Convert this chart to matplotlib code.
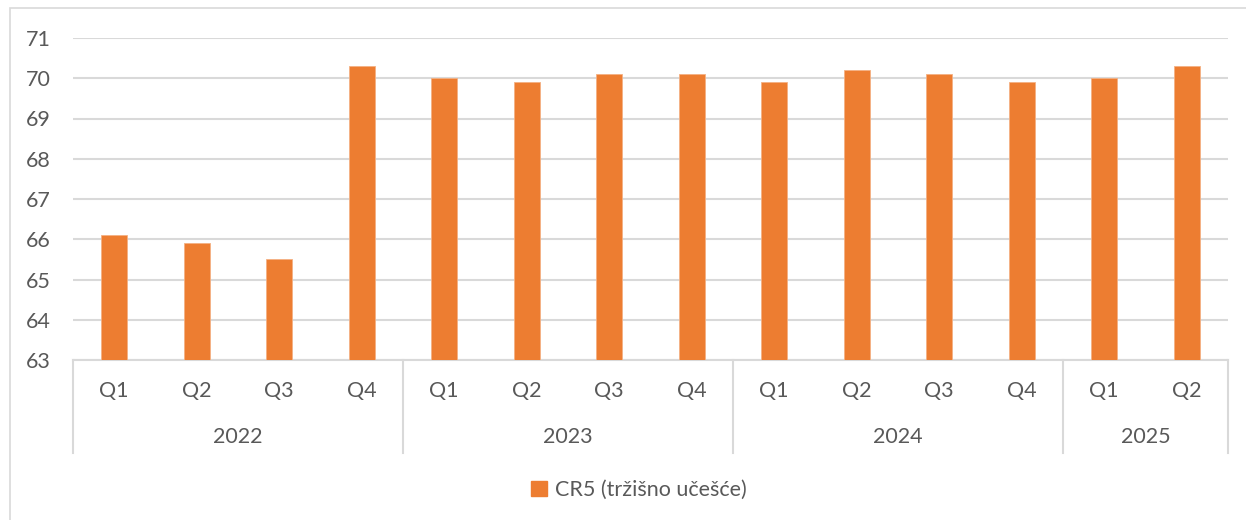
import matplotlib.pyplot as plt
from matplotlib.patches import Rectangle, Patch
from matplotlib.transforms import blended_transform_factory
import numpy as np

plt.rcParams['font.family'] = ['Lato', 'DejaVu Sans']

quarters = ['Q1', 'Q2', 'Q3', 'Q4', 'Q1', 'Q2', 'Q3', 'Q4',
            'Q1', 'Q2', 'Q3', 'Q4', 'Q1', 'Q2']
years = ['2022', '2023', '2024', '2025']
year_sizes = [4, 4, 4, 2]
cr5 = [66.1, 65.9, 65.5, 70.3, 70.0, 69.9, 70.1, 70.1,
       69.9, 70.2, 70.1, 69.9, 70.0, 70.3]

orange = '#ED7D31'
grid = '#d9d9d9'
txt = '#595959'
fs = 15.5

fig = plt.figure(figsize=(12.46, 5.2), dpi=100)
ax = fig.add_axes([73 / 1246, 1 - 360 / 520, (1228 - 73) / 1246, 322 / 520])

# outer chart frame
fig.patches.append(Rectangle((10 / 1246, -0.1), 1.2, 1 - 8 / 520 + 0.1,
                             transform=fig.transFigure, fill=False,
                             edgecolor=grid, linewidth=1.2))

x = np.arange(len(cr5))
ax.bar(x, np.array(cr5) - 63, bottom=63, width=0.315, color=orange,
       edgecolor='#f4b183', linewidth=0.6, zorder=3)

ax.set_xlim(-0.5, len(cr5) - 0.5)
ax.set_ylim(63, 71)
ax.set_yticks(np.arange(63, 72))
ax.tick_params(axis='y', length=0, labelsize=fs, labelcolor=txt, pad=16)
ax.tick_params(axis='x', length=0, labelbottom=False)
ax.grid(axis='y', color=grid, linewidth=1.5, zorder=0)
for s in ['top', 'right', 'left']:
    ax.spines[s].set_visible(False)
ax.spines['bottom'].set_color(grid)
ax.spines['bottom'].set_linewidth(1.5)

# two-level category axis
tr = blended_transform_factory(ax.transData, ax.transAxes)
for i, q in enumerate(quarters):
    ax.text(i, -31 / 322, q, transform=tr, ha='center', va='center',
            fontsize=fs, color=txt)
start = -0.5
bounds = [start]
for y, n in zip(years, year_sizes):
    ax.text(start + n / 2, -77 / 322, y, transform=tr, ha='center',
            va='center', fontsize=fs, color=txt)
    start += n
    bounds.append(start)
for b in bounds:
    ax.plot([b, b], [0, -93 / 322], transform=tr, color=grid,
            linewidth=1.5, clip_on=False)

fig.legend(handles=[Patch(color=orange, label='CR5 (tržišno učešće)')],
           loc='center', bbox_to_anchor=(0.513, 1 - 490 / 520), frameon=False,
           fontsize=fs, labelcolor=txt, handlelength=0.7, handleheight=0.7,
           handletextpad=0.4)

fig.savefig('out.png', dpi=100, facecolor='white')
